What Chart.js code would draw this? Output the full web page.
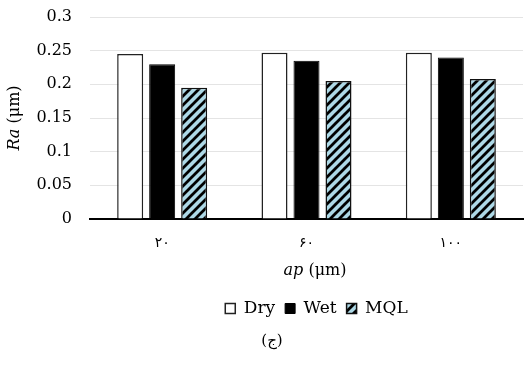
<!DOCTYPE html>
<html><head><meta charset="utf-8">
<script src="https://cdn.jsdelivr.net/npm/chart.js@4/dist/chart.umd.min.js"></script>
<style>html,body{margin:0;padding:0;background:#fff}#w{width:526px;height:366px;position:relative}</style>
</head><body>
<div id="w"><canvas id="c" width="526" height="366"></canvas></div>
<script>
const categories = ['۲۰', '۶۰', '۱۰۰'];
const seriesNames = ['Dry', 'Wet', 'MQL'];
const dryValues = [0.245, 0.247, 0.247];
const wetValues = [0.230, 0.235, 0.240];
const mqlValues = [0.195, 0.205, 0.208];
const yMin = 0, yMax = 0.3, yStep = 0.05;
const yTitle = ['Ra', ' (μm)'];
const xTitle = ['ap', ' (μm)'];
const caption = '(ج)';

function makeHatch() {
  const s = 9;
  const pc = document.createElement('canvas');
  pc.width = s; pc.height = s;
  const g = pc.getContext('2d');
  g.fillStyle = '#add8e6';
  g.fillRect(0, 0, s, s);
  g.strokeStyle = '#000';
  g.lineWidth = 2.8;
  g.beginPath();
  g.moveTo(-2, s + 2); g.lineTo(s + 2, -2);
  g.moveTo(-2, 2); g.lineTo(2, -2);
  g.moveTo(s - 2, s + 2); g.lineTo(s + 2, s - 2);
  g.stroke();
  return document.getElementById('c').getContext('2d').createPattern(pc, 'repeat');
}
const hatch = makeHatch();

const SERIF = "'DejaVu Serif', 'Liberation Serif', serif";

const titlePlugin = {
  id: 'titles',
  afterInit(chart) {
    const lg = chart.legend;
    if (lg) {
      const orig = lg.fit.bind(lg);
      lg.fit = function () { orig(); this.height = 366 - 219 - 71; };
      const od = lg.draw.bind(lg);
      lg.draw = function () { chart.ctx.save(); chart.ctx.translate(10, 0); od(); chart.ctx.restore(); };
    }
  },
  afterDraw(chart) {
    const ctx = chart.ctx;
    const area = chart.chartArea;
    ctx.save();
    ctx.fillStyle = '#000';
    ctx.textBaseline = 'middle';
    const fi = 'italic 16px ' + SERIF, fn = '16px ' + SERIF;
    ctx.font = fi; const w1 = ctx.measureText(yTitle[0]).width;
    ctx.font = fn; const w2 = ctx.measureText(yTitle[1]).width;
    ctx.translate(15, (area.top + area.bottom) / 2);
    ctx.rotate(-Math.PI / 2);
    ctx.textAlign = 'left';
    ctx.font = fi; ctx.fillText(yTitle[0], -(w1 + w2) / 2, 0);
    ctx.font = fn; ctx.fillText(yTitle[1], -(w1 + w2) / 2 + w1, 0);
    ctx.setTransform(1, 0, 0, 1, 0, 0);
    ctx.font = fi; const a1 = ctx.measureText(xTitle[0]).width;
    ctx.font = fn; const a2 = ctx.measureText(xTitle[1]).width;
    const cx = 315, cy = 271;
    ctx.font = fi; ctx.fillText(xTitle[0], cx - (a1 + a2) / 2, cy);
    ctx.font = fn; ctx.fillText(xTitle[1], cx - (a1 + a2) / 2 + a1, cy);
    ctx.textAlign = 'center';
    ctx.font = "15px 'DejaVu Serif', 'DejaVu Sans', serif";
    ctx.fillText(caption, 272, 341);
    ctx.restore();
  }
};

new Chart(document.getElementById('c'), {
  type: 'bar',
  data: {
    labels: categories,
    datasets: [
      { label: seriesNames[0], data: dryValues, backgroundColor: '#ffffff', borderColor: '#222', borderWidth: 1.5 },
      { label: seriesNames[1], data: wetValues, backgroundColor: '#000000', borderColor: '#000', borderWidth: 1 },
      { label: seriesNames[2], data: mqlValues, backgroundColor: hatch, borderColor: '#111', borderWidth: 1.5 }
    ]
  },
  options: {
    responsive: false,
    animation: false,
    devicePixelRatio: 1,
    layout: { padding: { top: 17, right: 3, left: 0, bottom: 0 } },
    datasets: { bar: { barPercentage: 0.813, categoryPercentage: 0.665 } },
    plugins: {
      tooltip: { enabled: false },
      title: { display: false },
      legend: {
        display: true,
        position: 'bottom',
        fullSize: false,
        labels: {
          boxWidth: 10, boxHeight: 10, padding: 10,
          color: '#000',
          font: { family: SERIF, size: 17 }
        }
      }
    },
    scales: {
      x: {
        grid: { display: false, drawTicks: false },
        border: { display: true, color: '#000', width: 2 },
        ticks: { color: '#000', padding: 16, font: { family: "'DejaVu Sans', sans-serif", size: 14 } },
        afterFit(scale) { scale.height = 71; scale.paddingLeft = 0; scale.paddingRight = 0; }
      },
      y: {
        min: yMin, max: yMax,
        grid: { color: '#e4e4e4', lineWidth: 1, drawTicks: false },
        border: { display: false },
        ticks: {
          stepSize: yStep, color: '#000', padding: 18,
          font: { family: SERIF, size: 16 },
          callback: v => String(+v.toFixed(2))
        },
        afterFit(scale) { scale.width = 90; scale.paddingTop = 0; scale.paddingBottom = 0; }
      }
    }
  },
  plugins: [titlePlugin]
});
</script>
</body></html>
